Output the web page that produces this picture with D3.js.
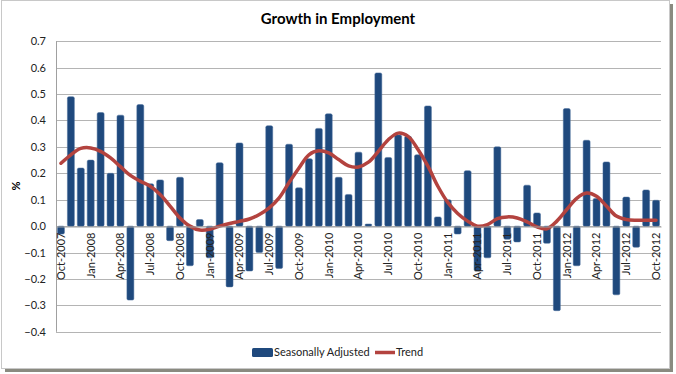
<!DOCTYPE html>
<html>
<head>
<meta charset="utf-8">
<script src="https://cdn.jsdelivr.net/npm/d3@7"></script>
<style>
  body { margin: 0; background: #fff; }
  svg { display: block; font-family: Lato, 'Open Sans', sans-serif; }
</style>
</head>
<body>
<div id="chart"></div>
<script>
const months = [
  'Oct-2007', 'Nov-2007', 'Dec-2007',
  'Jan-2008', 'Feb-2008', 'Mar-2008', 'Apr-2008', 'May-2008', 'Jun-2008',
  'Jul-2008', 'Aug-2008', 'Sep-2008', 'Oct-2008', 'Nov-2008', 'Dec-2008',
  'Jan-2009', 'Feb-2009', 'Mar-2009', 'Apr-2009', 'May-2009', 'Jun-2009',
  'Jul-2009', 'Aug-2009', 'Sep-2009', 'Oct-2009', 'Nov-2009', 'Dec-2009',
  'Jan-2010', 'Feb-2010', 'Mar-2010', 'Apr-2010', 'May-2010', 'Jun-2010',
  'Jul-2010', 'Aug-2010', 'Sep-2010', 'Oct-2010', 'Nov-2010', 'Dec-2010',
  'Jan-2011', 'Feb-2011', 'Mar-2011', 'Apr-2011', 'May-2011', 'Jun-2011',
  'Jul-2011', 'Aug-2011', 'Sep-2011', 'Oct-2011', 'Nov-2011', 'Dec-2011',
  'Jan-2012', 'Feb-2012', 'Mar-2012', 'Apr-2012', 'May-2012', 'Jun-2012',
  'Jul-2012', 'Aug-2012', 'Sep-2012', 'Oct-2012'
];

const seasonallyAdjusted = [
  -0.03, 0.49, 0.22,
  0.25, 0.43, 0.20, 0.42, -0.28, 0.46,
  0.16, 0.175, -0.055, 0.185, -0.15, 0.025,
  -0.12, 0.24, -0.23, 0.315, -0.17, -0.10,
  0.38, -0.16, 0.31, 0.145, 0.255, 0.37,
  0.425, 0.185, 0.12, 0.28, 0.008, 0.58,
  0.26, 0.345, 0.34, 0.27, 0.455, 0.035,
  0.10, -0.03, 0.21, -0.17, -0.12, 0.30,
  -0.05, -0.06, 0.155, 0.05, -0.065, -0.32,
  0.445, -0.15, 0.325, 0.105, 0.243, -0.26,
  0.11, -0.08, 0.137, 0.098
];

const trend = [
  0.238, 0.27, 0.294,
  0.296, 0.283, 0.258, 0.225, 0.192, 0.17,
  0.151, 0.12, 0.076, 0.031, 0.0, -0.015,
  -0.012, 0.0, 0.01, 0.018, 0.027, 0.044,
  0.069, 0.107, 0.165, 0.22, 0.27, 0.285,
  0.277, 0.252, 0.228, 0.224, 0.242, 0.283,
  0.327, 0.352, 0.34, 0.29, 0.227, 0.151,
  0.09, 0.048, 0.019, 0.0, 0.006, 0.028,
  0.035, 0.031, 0.016, -0.003, -0.01, 0.019,
  0.063, 0.105, 0.125, 0.113, 0.076, 0.038,
  0.025, 0.022, 0.022, 0.022
];

const yTicks = [-0.4, -0.3, -0.2, -0.1, 0.0, 0.1, 0.2, 0.3, 0.4, 0.5, 0.6, 0.7];

const legendItems = ['Seasonally Adjusted', 'Trend'];

class EmploymentChart {

  constructor(options) {
    this.root = options.root;
    this.width = 676;
    this.height = 374;
    this.plot = {left: 56, right: 661, top: 41.2, bottom: 331.8};
    this.barColour = '#1f497d';
    this.lineColour = '#b3433f';
  }

  draw() {
    this.svg = this.root.append('svg')
      .attr('width', this.width)
      .attr('height', this.height);

    this.drawFrame();

    this.xScale = d3.scaleBand()
      .domain(months)
      .range([this.plot.left, this.plot.right])
      .paddingInner(0.3)
      .paddingOuter(0.15);

    this.yScale = d3.scaleLinear()
      .domain([-0.4, 0.7])
      .range([this.plot.bottom, this.plot.top]);

    this.drawGrid();
    this.drawBars();
    this.drawTrend();
    this.drawAxes();
    this.drawLegend();
  }

  drawFrame() {
    // drop shadow on right / bottom like the excel export
    this.svg.append('rect')
      .attr('x', 5).attr('y', 4)
      .attr('width', 668).attr('height', 368)
      .attr('fill', '#8a8a80');
    this.svg.append('rect')
      .attr('x', 1.5).attr('y', 0.5)
      .attr('width', 668).attr('height', 368)
      .attr('fill', '#fff')
      .attr('stroke', '#c8c8c8');

    this.svg.append('text')
      .attr('x', 338)
      .attr('y', 24)
      .attr('text-anchor', 'middle')
      .style('font-size', '15px')
      .style('font-weight', 'bold')
      .text('Growth in Employment');
  }

  drawGrid() {
    const y = this.yScale;
    this.svg.append('g')
      .selectAll('line')
      .data(yTicks)
      .enter().append('line')
      .attr('x1', this.plot.left)
      .attr('x2', this.plot.right)
      .attr('y1', d => Math.round(y(d)) + 0.5)
      .attr('y2', d => Math.round(y(d)) + 0.5)
      .attr('stroke', '#b4b4b4')
      .attr('stroke-width', 1);

    this.svg.append('line')
      .attr('x1', this.plot.left + 0.5)
      .attr('x2', this.plot.left + 0.5)
      .attr('y1', this.plot.top)
      .attr('y2', this.plot.bottom)
      .attr('stroke', '#a0a0a0');
  }

  drawBars() {
    const x = this.xScale;
    const y = this.yScale;
    this.svg.append('g')
      .selectAll('rect')
      .data(seasonallyAdjusted)
      .enter().append('rect')
      .attr('x', (d, i) => x(months[i]))
      .attr('width', x.bandwidth())
      .attr('y', d => y(Math.max(0, d)))
      .attr('height', d => Math.max(1.5, Math.abs(y(d) - y(0))))
      .attr('rx', 1.5)
      .attr('fill', this.barColour)
      .attr('stroke', '#4a6f9c')
      .attr('stroke-width', 0.5);
  }

  drawTrend() {
    const x = this.xScale;
    const y = this.yScale;
    const line = d3.line()
      .x((d, i) => x(months[i]) + x.bandwidth() / 2)
      .y(d => y(d))
      .curve(d3.curveCatmullRom.alpha(0.5));

    this.svg.append('path')
      .datum(trend)
      .attr('d', line)
      .attr('fill', 'none')
      .attr('stroke', this.lineColour)
      .attr('stroke-width', 3.5)
      .attr('stroke-linecap', 'round');
  }

  drawAxes() {
    const y = this.yScale;
    const x = this.xScale;

    const yAxis = this.svg.append('g')
      .attr('transform', `translate(${this.plot.left},0)`)
      .call(d3.axisLeft(y).tickValues(yTicks).tickFormat(d3.format('.1f')).tickSize(0).tickPadding(10));
    yAxis.select('.domain').remove();
    yAxis.selectAll('text')
      .style('font-size', '11px')
      .style('font-family', 'Lato, sans-serif')
      .attr('fill', '#222');

    this.svg.append('text')
      .attr('transform', 'translate(20,186) rotate(-90)')
      .attr('text-anchor', 'middle')
      .style('font-size', '11px')
      .style('font-weight', 'bold')
      .text('%');

    // category axis crossing at zero
    const zero = Math.round(y(0)) + 0.5;
    const xAxis = this.svg.append('g')
      .attr('transform', `translate(0,${zero})`)
      .call(d3.axisBottom(x)
        .tickValues(months.filter((m, i) => i % 3 === 0))
        .tickSize(0)
        .tickPadding(6));
    xAxis.select('.domain')
      .attr('stroke', '#a0a0a0');
    xAxis.selectAll('text')
      .attr('transform', 'rotate(-90)')
      .attr('text-anchor', 'end')
      .attr('x', -6)
      .attr('y', 0)
      .attr('dy', '0.35em')
      .style('font-size', '11px')
      .style('font-family', 'Lato, sans-serif')
      .attr('fill', '#222');
  }

  drawLegend() {
    const g = this.svg.append('g');
    g.append('rect')
      .attr('x', 252).attr('y', 348)
      .attr('width', 21).attr('height', 9)
      .attr('rx', 1.5)
      .attr('fill', this.barColour);
    g.append('text')
      .attr('x', 274).attr('y', 356)
      .style('font-size', '11px')
      .attr('fill', '#222')
      .text(legendItems[0]);
    g.append('line')
      .attr('x1', 375).attr('x2', 395)
      .attr('y1', 352.5).attr('y2', 352.5)
      .attr('stroke', this.lineColour)
      .attr('stroke-width', 3.5);
    g.append('text')
      .attr('x', 396).attr('y', 356)
      .style('font-size', '11px')
      .attr('fill', '#222')
      .text(legendItems[1]);
  }
}

const chart = new EmploymentChart({root: d3.select('#chart')});
chart.draw();
</script>
</body>
</html>
